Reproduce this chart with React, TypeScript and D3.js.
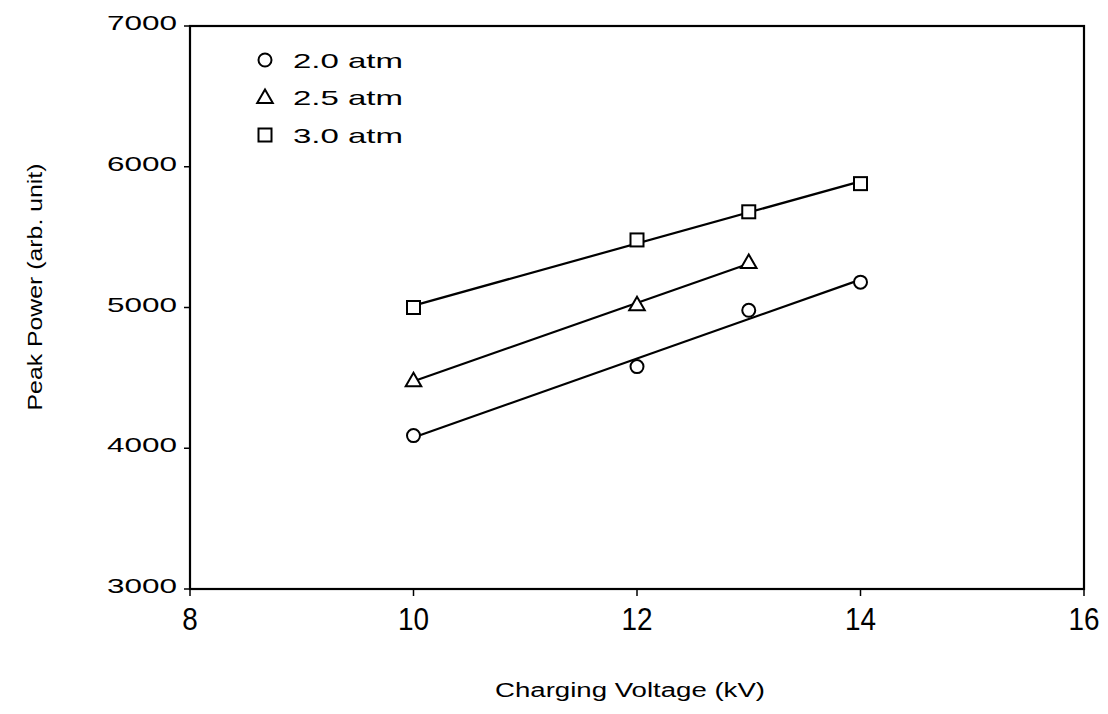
import React from "react";
import * as d3 from "d3";

const xTicks = [8, 10, 12, 14, 16];
const yTicks = [3000, 4000, 5000, 6000, 7000];

const voltage20 = [10, 12, 13, 14];
const power20 = [4090, 4580, 4980, 5180];
const voltage25 = [10, 12, 13];
const power25 = [4480, 5020, 5320];
const voltage30 = [10, 12, 13, 14];
const power30 = [5000, 5480, 5680, 5880];

const seriesNames = ["2.0 atm", "2.5 atm", "3.0 atm"];
const seriesShapes = ["circle", "triangle", "square"];

const W = 1108;
const H = 714;
const FONT = "'Liberation Sans', Arial, sans-serif";

function fit(xs: number[], ys: number[]) {
  const mx = d3.mean(xs)!;
  const my = d3.mean(ys)!;
  let sxy = 0;
  let sxx = 0;
  xs.forEach((x, i) => {
    sxy += (x - mx) * (ys[i] - my);
    sxx += (x - mx) * (x - mx);
  });
  const b = sxy / sxx;
  const a = my - b * mx;
  return (x: number) => a + b * x;
}

function Marker({ shape, cx, cy }: { shape: string; cx: number; cy: number }) {
  const common = { fill: "white", stroke: "black", strokeWidth: 2 };
  if (shape === "circle") return <circle cx={cx} cy={cy} r={6.5} {...common} />;
  if (shape === "triangle") {
    const s = d3.symbol().type(d3.symbolTriangle).size(105)();
    return <path d={s as string} transform={`translate(${cx},${cy + 1})`} {...common} />;
  }
  return <rect x={cx - 6.5} y={cy - 6.5} width={13} height={13} {...common} />;
}

export default function App() {
  const x = d3.scaleLinear().domain([8, 16]).range([190, 1084]);
  const y = d3.scaleLinear().domain([3000, 7000]).range([589, 26]);

  const series = [
    { xs: voltage20, ys: power20 },
    { xs: voltage25, ys: power25 },
    { xs: voltage30, ys: power30 },
  ];

  const line = d3
    .line<number[]>()
    .x((d) => x(d[0]))
    .y((d) => y(d[1]));

  return (
    <svg width={W} height={H} style={{ position: "absolute", left: 0, top: 0, background: "white" }}>
      <rect x={0} y={0} width={W} height={H} fill="white" />
      {/* frame */}
      <rect
        x={x(8)}
        y={y(7000)}
        width={x(16) - x(8)}
        height={y(3000) - y(7000)}
        fill="none"
        stroke="black"
        strokeWidth={2.2}
      />
      {/* x ticks */}
      {xTicks.map((t) => (
        <g key={"x" + t}>
          <line x1={x(t)} x2={x(t)} y1={y(3000)} y2={y(3000) + 7} stroke="black" strokeWidth={1.5} />
          <text
            x={x(t)}
            y={630}
            textAnchor="middle"
            fontFamily={FONT}
            fontSize={31}
            textLength={String(t).length * 15.5}
            lengthAdjust="spacingAndGlyphs"
          >
            {t}
          </text>
        </g>
      ))}
      {/* y ticks */}
      {yTicks.map((t) => (
        <g key={"y" + t}>
          <line x1={x(8) - 6} x2={x(8)} y1={y(t)} y2={y(t)} stroke="black" strokeWidth={1.5} />
          <text
            x={177}
            y={y(t) + 4}
            textAnchor="end"
            fontFamily={FONT}
            fontSize={21}
            textLength={70}
            lengthAdjust="spacingAndGlyphs"
          >
            {t}
          </text>
        </g>
      ))}
      {/* fit lines */}
      {series.map((s, i) => {
        const f = fit(s.xs, s.ys);
        const x0 = s.xs[0];
        const x1 = s.xs[s.xs.length - 1];
        return (
          <path
            key={"l" + i}
            d={line([
              [x0, f(x0)],
              [x1, f(x1)],
            ]) as string}
            fill="none"
            stroke="black"
            strokeWidth={2.2}
          />
        );
      })}
      {/* markers */}
      {series.map((s, i) =>
        s.xs.map((v, j) => (
          <Marker key={`m${i}-${j}`} shape={seriesShapes[i]} cx={x(v)} cy={y(s.ys[j])} />
        ))
      )}
      {/* legend */}
      {seriesNames.map((n, i) => (
        <g key={"lg" + i} transform={`translate(0, ${60 + i * 37.5})`}>
          <Marker shape={seriesShapes[i]} cx={265} cy={0} />
          <text
            x={293}
            y={7.5}
            fontFamily={FONT}
            fontSize={21}
            textLength={110}
            lengthAdjust="spacingAndGlyphs"
          >
            {n}
          </text>
        </g>
      ))}
      {/* axis titles */}
      <text
        x={495}
        y={697}
        fontFamily={FONT}
        fontSize={20}
        textLength={270}
        lengthAdjust="spacingAndGlyphs"
      >
        Charging Voltage (kV)
      </text>
      <text
        transform={`translate(42, 287) rotate(-90)`}
        textAnchor="middle"
        fontFamily={FONT}
        fontSize={20}
        textLength={247}
        lengthAdjust="spacingAndGlyphs"
      >
        Peak Power (arb. unit)
      </text>
    </svg>
  );
}
